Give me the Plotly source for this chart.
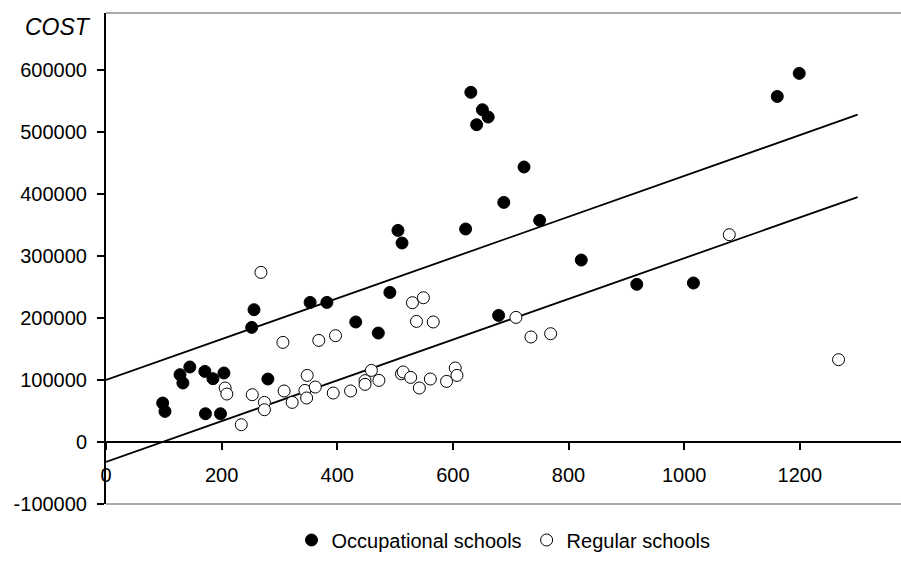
import plotly.graph_objects as go

# students (x) vs COST (y)
occ_x = [98, 102, 128, 133, 145, 171, 185, 204, 172, 198, 280, 252, 256, 353, 382,
         432, 471, 491, 505, 512, 622, 631, 641, 651, 661, 679, 688, 723, 750, 822,
         918, 1016, 1161, 1199]
occ_y = [62900, 49400, 108600, 95200, 121000, 113900, 102100, 111300, 45600, 45600,
         101600, 184900, 213400, 225200, 225200, 193600, 175800, 241300, 341300,
         321000, 343600, 564000, 511800, 536000, 524200, 204200, 386500, 443600,
         357500, 293500, 254300, 256500, 557400, 594600]

reg_x = [206, 209, 234, 253, 268, 274, 274, 306, 308, 322, 344, 347, 348, 362, 368,
         393, 397, 423, 448, 448, 459, 472, 511, 514, 527, 530, 537, 542, 549, 561,
         566, 589, 604, 607, 709, 735, 769, 1078, 1267]
reg_y = [87100, 77400, 27900, 76300, 273600, 63900, 52100, 160700, 82300, 63900,
         83200, 71000, 107400, 88700, 163900, 79000, 171500, 82300, 99000, 93000,
         115500, 99400, 110000, 113000, 104200, 224700, 194500, 87100, 232700, 101600,
         193600, 97800, 119400, 107400, 201000, 169400, 174700, 334400, 132800]

# fitted lines
line_x = [0, 1300]
upper_y = [100000, 528000]
lower_y = [-32000, 395000]

x_ticks = [0, 200, 400, 600, 800, 1000, 1200]
y_ticks = [-100000, 0, 100000, 200000, 300000, 400000, 500000, 600000]
y_labels = [str(v) for v in y_ticks]

font = "Liberation Sans, Arial, sans-serif"

fig = go.Figure()
fig.add_trace(go.Scatter(x=line_x, y=upper_y, mode="lines",
                         line=dict(color="black", width=1.8), showlegend=False))
fig.add_trace(go.Scatter(x=line_x, y=lower_y, mode="lines",
                         line=dict(color="black", width=1.8), showlegend=False))
fig.add_trace(go.Scatter(x=occ_x, y=occ_y, mode="markers", name="Occupational schools",
                         marker=dict(size=12, color="black", line=dict(color="black", width=1))))
fig.add_trace(go.Scatter(x=reg_x, y=reg_y, mode="markers", name="Regular schools",
                         marker=dict(size=12, color="white", line=dict(color="black", width=1))))

fig.update_layout(
    width=901, height=561,
    margin=dict(l=106, r=0, t=13, b=57),
    plot_bgcolor="white", paper_bgcolor="white",
    font=dict(family=font, size=20, color="black"),
    legend=dict(orientation="h", x=0.5, xanchor="center", y=-0.113, yanchor="bottom",
                font=dict(size=20), itemwidth=30, tracegroupgap=0),
    xaxis=dict(range=[0, 1375], tickvals=x_ticks, showgrid=False, zeroline=False,
               showline=True, linecolor="black", linewidth=2,
               ticks="outside", ticklen=7, tickwidth=2, tickcolor="black",
               anchor="free", position=62 / 491, ticklabelstandoff=8),
    yaxis=dict(range=[-100000, 692000], tickvals=y_ticks, ticktext=y_labels,
               showgrid=False, zeroline=False,
               showline=True, linecolor="black", linewidth=2,
               ticks="outside", ticklen=7, tickwidth=2, tickcolor="black",
               ticklabelstandoff=6),
    shapes=[
        dict(type="line", xref="paper", yref="paper", x0=0, x1=1, y0=1, y1=1,
             line=dict(color="#8c8c8c", width=1.5)),
        dict(type="line", xref="paper", yref="paper", x0=0, x1=1, y0=0, y1=0,
             line=dict(color="#8c8c8c", width=1.5)),
    ],
    annotations=[
        dict(text="<i>COST</i>", xref="paper", yref="paper", x=0, y=1,
             xanchor="right", yanchor="top", xshift=-13, yshift=1,
             showarrow=False, font=dict(size=23)),
    ],
)

# drop the browser's default 8px body margin so the figure sits at the page corner
fig.write_html("out.html", config={"displayModeBar": False},
               post_script="document.body.style.margin='0';document.body.style.overflow='hidden';")
